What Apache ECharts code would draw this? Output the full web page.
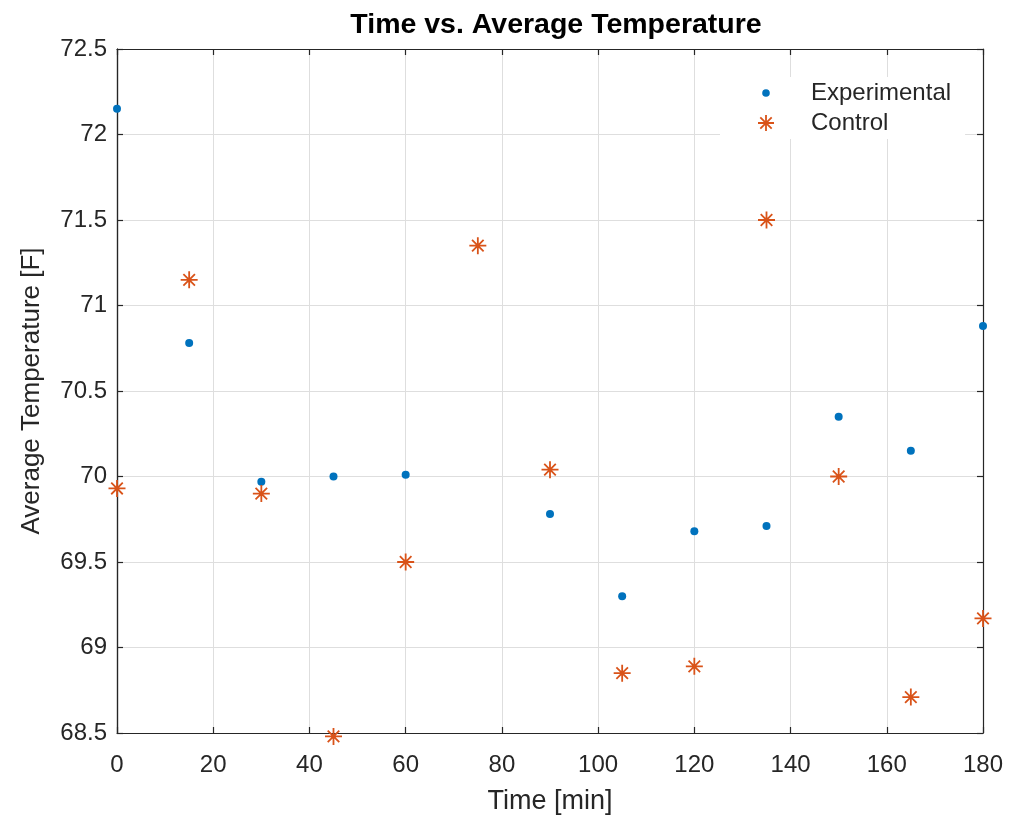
<!DOCTYPE html>
<html>
<head>
<meta charset="utf-8">
<script src="https://cdn.jsdelivr.net/npm/echarts@6/dist/echarts.min.js"></script>
<style>
  html, body { margin: 0; padding: 0; background: #fff; }
  #chart { width: 1018px; height: 823px; }
</style>
</head>
<body>
<div id="chart"></div>
<script>
// Sample times in minutes
const times = [0, 15, 30, 45, 60, 75, 90, 105, 120, 135, 150, 165, 180];
// Average temperature readings [F]; the experimental run has no reading at 75 min
const experimental = [72.15, 70.78, 69.97, 70.0, 70.01, null, 69.78, 69.30, 69.68, 69.71, 70.35, 70.15, 70.88];
const control = [69.93, 71.15, 69.90, 68.48, 69.50, 71.35, 70.04, 68.85, 68.89, 71.50, 70.00, 68.71, 69.17];

const xTicks = [0, 20, 40, 60, 80, 100, 120, 140, 160, 180];
const yTicks = [68.5, 69, 69.5, 70, 70.5, 71, 71.5, 72, 72.5];

const pairs = (ys) => times.map((t, i) => [t, ys[i]]).filter(p => p[1] !== null);

const BLUE = '#0072BD';
const ORANGE = '#D95319';
const AX = '#262626';
const FONT = 'Liberation Sans, Arial, sans-serif';
const STAR = 'path://M5,0L5,10M0,5L10,5M1.6,1.6L8.4,8.4M1.6,8.4L8.4,1.6';

// Legend icons as small SVG images so the dot keeps its true size
const svgIcon = (body) => 'image://data:image/svg+xml;charset=utf-8,' + encodeURIComponent(
  '<svg xmlns="http://www.w3.org/2000/svg" width="20" height="20" viewBox="0 0 20 20">' + body + '</svg>');
const DOT_ICON = svgIcon('<circle cx="10" cy="10" r="3.8" fill="' + BLUE + '"/>');
const STAR_ICON = svgIcon('<g stroke="' + ORANGE + '" stroke-width="1.8" fill="none">' +
  '<path d="M10,2L10,18M2,10L18,10M4.3,4.3L15.7,15.7M4.3,15.7L15.7,4.3"/></g>');

const chart = echarts.init(document.getElementById('chart'), null, { renderer: 'canvas' });

// Label-less axes that only draw the box edges and inward ticks
const frameAxis = (extra) => Object.assign({
  axisLine: { show: true, onZero: false, lineStyle: { color: AX, width: 1.2 } },
  axisTick: { show: true, inside: true, length: 6, lineStyle: { color: AX, width: 1.2 } },
  splitLine: { show: false },
  axisLabel: { show: false }
}, extra);

chart.setOption({
  animation: false,
  backgroundColor: '#ffffff',
  title: {
    text: 'Time vs. Average Temperature',
    left: 551, top: 6, textAlign: 'center',
    textStyle: { fontFamily: FONT, fontSize: 28.5, fontWeight: 'bold', color: '#000' }
  },
  legend: {
    orient: 'vertical',
    left: 720, top: 77,
    backgroundColor: '#ffffff',
    padding: [4, 14, 4, 36],
    itemWidth: 20, itemHeight: 20, itemGap: 6,
    textStyle: { fontFamily: FONT, fontSize: 24, color: AX, padding: [0, 0, 0, 30] },
    data: [
      { name: 'Experimental', icon: DOT_ICON },
      { name: 'Control', icon: STAR_ICON }
    ]
  },
  grid: { left: 117, right: 35, top: 49, bottom: 90, containLabel: false },
  xAxis: [
    {
      type: 'value', min: 0, max: 180, interval: 20,
      name: 'Time [min]', nameLocation: 'middle', nameGap: 55,
      nameTextStyle: { fontFamily: FONT, fontSize: 27, color: AX },
      axisLine: { show: true, onZero: false, lineStyle: { color: AX, width: 1.2 } },
      axisTick: { show: true, inside: true, length: 6, lineStyle: { color: AX, width: 1.2 } },
      axisLabel: {
        fontFamily: FONT, fontSize: 24, color: AX, margin: 20,
        formatter: (v) => xTicks.includes(v) ? String(v) : ''
      },
      splitLine: { show: true, lineStyle: { color: '#dedede', width: 1 } }
    },
    frameAxis({ type: 'value', min: 0, max: 180, interval: 20, position: 'top' })
  ],
  yAxis: [
    {
      type: 'value', min: 68.5, max: 72.5, interval: 0.5,
      name: 'Average Temperature [F]', nameLocation: 'middle', nameGap: 72,
      nameTextStyle: { fontFamily: FONT, fontSize: 26, color: AX },
      axisLine: { show: true, onZero: false, lineStyle: { color: AX, width: 1.2 } },
      axisTick: { show: false },
      axisLabel: {
        fontFamily: FONT, fontSize: 24, color: AX, margin: 10,
        formatter: (v) => {
          const t = yTicks.find(k => Math.abs(k - v) < 1e-6);
          return t === undefined ? '' : String(t);
        }
      },
      splitLine: { show: true, lineStyle: { color: '#dedede', width: 1 } }
    },
    frameAxis({ type: 'value', min: 68.5, max: 72.5, interval: 0.5, position: 'right' }),
    frameAxis({ type: 'value', min: 68.5, max: 72.5, interval: 0.5, position: 'left' })
  ],
  series: [
    {
      name: 'Experimental', type: 'scatter', clip: false,
      symbol: 'circle', symbolSize: 8,
      itemStyle: { color: BLUE, opacity: 1 },
      data: pairs(experimental), z: 3
    },
    {
      name: 'Control', type: 'scatter', clip: false,
      symbol: STAR, symbolSize: 17,
      itemStyle: { color: 'none', borderColor: ORANGE, borderWidth: 1.8, opacity: 1 },
      data: pairs(control), z: 4
    }
  ]
});
</script>
</body>
</html>
